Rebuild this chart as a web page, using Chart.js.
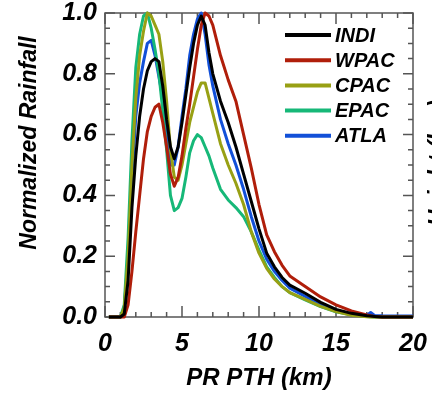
<!DOCTYPE html>
<html>
<head>
<meta charset="utf-8">
<script src="https://cdn.jsdelivr.net/npm/chart.js@4.4.1/dist/chart.umd.min.js"></script>
<style>
  html, body { margin: 0; padding: 0; background: #fff; }
</style>
</head>
<body>
<canvas id="pth_chart" width="432" height="394"></canvas>
<script>
// PR PTH (km)
const heights = [0.25, 1, 1.25, 1.5, 1.75, 2, 2.25, 2.5, 2.75, 3, 3.25, 3.5, 3.75, 4, 4.25,
  4.5, 4.75, 5, 5.25, 5.5, 5.75, 6, 6.25, 6.5, 6.75, 7, 7.5, 8, 8.5, 9, 9.5, 10, 10.5, 11,
  11.5, 12, 13, 14, 15, 16, 17, 17.25, 17.5, 18, 20];

const indi = [0, 0, 0.01, 0.12, 0.36, 0.53, 0.66, 0.75, 0.81, 0.84, 0.85, 0.84, 0.76, 0.65, 0.56,
  0.52, 0.56, 0.64, 0.73, 0.82, 0.90, 0.96, 0.99, 0.96, 0.87, 0.80, 0.71, 0.64, 0.56, 0.47, 0.38,
  0.29, 0.21, 0.165, 0.13, 0.105, 0.078, 0.048, 0.025, 0.012, 0.004, 0.003, 0.002, 0, 0];
const wpac = [0, 0, 0, 0.04, 0.15, 0.28, 0.40, 0.52, 0.61, 0.66, 0.69, 0.70, 0.64, 0.56, 0.47,
  0.43, 0.46, 0.53, 0.62, 0.70, 0.79, 0.88, 0.96, 1.0, 0.99, 0.96, 0.86, 0.78, 0.71, 0.60, 0.49,
  0.37, 0.27, 0.215, 0.17, 0.135, 0.10, 0.066, 0.04, 0.02, 0.007, 0.004, 0.002, 0, 0];
const cpac = [0, 0, 0.03, 0.20, 0.50, 0.72, 0.86, 0.94, 1.0, 0.99, 0.96, 0.93, 0.84, 0.71, 0.55,
  0.46, 0.45, 0.50, 0.57, 0.64, 0.69, 0.74, 0.77, 0.77, 0.72, 0.67, 0.57, 0.50, 0.44, 0.37, 0.28,
  0.21, 0.16, 0.125, 0.10, 0.08, 0.058, 0.035, 0.018, 0.006, 0.001, 0, 0, 0, 0];
const epac = [0, 0, 0.04, 0.26, 0.58, 0.82, 0.93, 0.99, 1.0, 0.95, 0.88, 0.80, 0.68, 0.55, 0.40,
  0.35, 0.36, 0.39, 0.46, 0.54, 0.58, 0.60, 0.59, 0.56, 0.53, 0.49, 0.42, 0.385, 0.36, 0.33, 0.28,
  0.22, 0.165, 0.13, 0.10, 0.08, 0.056, 0.034, 0.017, 0.007, 0.002, 0.001, 0, 0, 0];
const atla = [0, 0, 0.03, 0.19, 0.46, 0.66, 0.77, 0.84, 0.90, 0.91, 0.86, 0.79, 0.72, 0.61, 0.50,
  0.50, 0.56, 0.66, 0.75, 0.86, 0.93, 0.98, 1.0, 0.93, 0.83, 0.76, 0.65, 0.57, 0.50, 0.42, 0.33,
  0.25, 0.19, 0.15, 0.12, 0.095, 0.068, 0.04, 0.02, 0.008, 0.006, 0.015, 0.005, 0.004, 0.003];

const basins = ["INDI", "WPAC", "CPAC", "EPAC", "ATLA"];
const series = [indi, wpac, cpac, epac, atla];
const colors = ["#000000", "#b01e0a", "#98a014", "#16b878", "#1250d8"];

const yTicks = [0, 0.2, 0.4, 0.6, 0.8, 1.0];
const xTicks = [0, 5, 10, 15, 20];

const FONT = "'Liberation Sans', Arial, sans-serif";

// box with inward ticks on all 4 sides (IDL style)
const frameTicks = {
  id: "frameTicks",
  beforeDatasetsDraw(chart) {
    const { ctx, chartArea: a, scales: { x, y } } = chart;
    ctx.save();
    ctx.strokeStyle = "#555";
    ctx.lineWidth = 1.5;
    ctx.strokeRect(a.left, a.top, a.right - a.left, a.bottom - a.top);
    ctx.beginPath();
    for (let v = 0; v <= 20; v++) {
      const px = x.getPixelForValue(v);
      const len = v % 5 === 0 ? 11 : 5;
      ctx.moveTo(px, a.bottom); ctx.lineTo(px, a.bottom - len);
      ctx.moveTo(px, a.top); ctx.lineTo(px, a.top + len);
    }
    for (let i = 0; i <= 20; i++) {
      const py = y.getPixelForValue(i * 0.05);
      const len = i % 4 === 0 ? 10 : 5;
      ctx.moveTo(a.left, py); ctx.lineTo(a.left + len, py);
      ctx.moveTo(a.right, py); ctx.lineTo(a.right - len, py);
    }
    ctx.stroke();
    ctx.restore();
  }
};

const extras = {
  id: "extras",
  afterDatasetsDraw(chart) {
    const { ctx } = chart;
    ctx.save();
    // legend inside the plot
    ctx.font = "italic bold 20px " + FONT;
    ctx.textBaseline = "middle";
    chart.data.datasets.forEach((ds, i) => {
      const yy = 35 + i * 25.2;
      ctx.strokeStyle = ds.borderColor;
      ctx.lineWidth = 4;
      ctx.beginPath();
      ctx.moveTo(285, yy);
      ctx.lineTo(331, yy);
      ctx.stroke();
      ctx.fillStyle = "#000";
      ctx.fillText(ds.label, 335, yy + 1);
    });
    // y axis title
    ctx.font = "italic bold 23px " + FONT;
    ctx.textAlign = "center";
    ctx.save();
    ctx.translate(30, 143);
    ctx.rotate(-Math.PI / 2);
    ctx.fillText("Normalized Rainfall", 0, 0);
    ctx.restore();
    // label of the next panel, cut by the edge
    ctx.translate(439, 163);
    ctx.rotate(-Math.PI / 2);
    ctx.fillText("Height (km)", 0, 0);
    ctx.restore();
  }
};

new Chart(document.getElementById("pth_chart"), {
  type: "line",
  data: {
    datasets: basins.map((name, i) => ({
      label: name,
      data: heights.map((h, j) => ({ x: h, y: series[i][j] })),
      borderColor: colors[i],
      backgroundColor: colors[i],
      borderWidth: 3,
      pointRadius: 0,
      tension: 0,
      borderJoinStyle: "round",
      clip: false,
    })),
  },
  options: {
    responsive: false,
    animation: false,
    layout: { padding: { top: 13, right: 19, left: 0, bottom: 0 } },
    plugins: { legend: { display: false }, tooltip: { enabled: false } },
    scales: {
      x: {
        type: "linear",
        min: 0,
        max: 20,
        afterBuildTicks: (s) => { s.ticks = xTicks.map((v) => ({ value: v })); },
        afterFit: (s) => {
          s.height = 77;
          s.paddingLeft = 0;
          s.paddingRight = 0;
        },
        grid: { display: false, drawTicks: false },
        border: { display: false },
        ticks: {
          color: "#000",
          padding: 15,
          maxRotation: 0,
          font: { family: FONT, size: 25, style: "italic", weight: "bold", lineHeight: 1 },
        },
        title: {
          display: true,
          text: "PR PTH (km)",
          color: "#000",
          padding: { top: 0, bottom: 1 },
          font: { family: FONT, size: 24, style: "italic", weight: "bold" },
        },
      },
      y: {
        min: 0,
        max: 1,
        afterBuildTicks: (s) => { s.ticks = yTicks.map((v) => ({ value: v })); },
        afterFit: (s) => {
          s.width = 105;
          s.paddingTop = 0;
          s.paddingBottom = 0;
        },
        grid: { display: false, drawTicks: false },
        border: { display: false },
        ticks: {
          color: "#000",
          padding: 8,
          callback: (v) => Number(v).toFixed(1),
          font: { family: FONT, size: 25, style: "italic", weight: "bold", lineHeight: 1 },
        },
      },
    },
  },
  plugins: [frameTicks, extras],
});
</script>
</body>
</html>
